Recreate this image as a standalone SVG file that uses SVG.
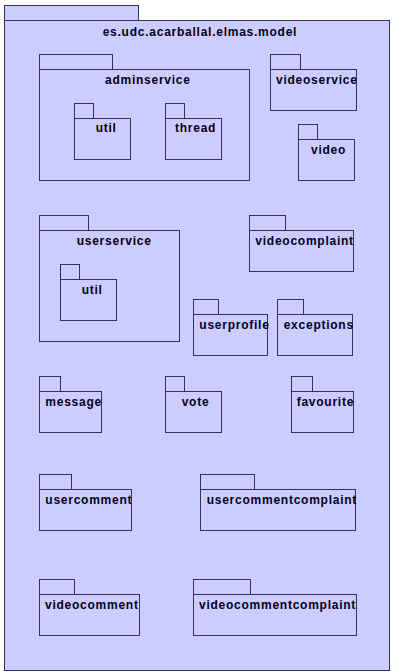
<svg xmlns="http://www.w3.org/2000/svg" width="401" height="672" viewBox="0 0 401 672">
<style>
rect{fill:#CCCCFF;stroke:#333355;stroke-width:1}
text{font-family:"Liberation Sans",Arial,sans-serif;font-weight:bold;font-size:12px;letter-spacing:0.75px;fill:#000022}
</style>
<rect x="0" y="0" width="401" height="672" style="fill:#ffffff;stroke:none"/>
<g id="pkg-model">
<rect x="4.5" y="5.5" width="134" height="15"/>
<rect x="4.5" y="20.5" width="385" height="650"/>
<text x="102.7" y="35.5">es.udc.acarballal.elmas.model</text>
</g>
<g id="pkg-adminservice">
<rect x="39.5" y="54.5" width="73" height="15"/>
<rect x="39.5" y="69.5" width="210" height="111"/>
<text x="105" y="83.5">adminservice</text>
</g>
<g id="pkg-adminservice-util">
<rect x="74.5" y="103.5" width="19" height="15"/>
<rect x="74.5" y="118.5" width="56" height="41"/>
<text x="95.7" y="132.3">util</text>
</g>
<g id="pkg-adminservice-thread">
<rect x="165.5" y="103.5" width="19" height="15"/>
<rect x="165.5" y="118.5" width="56" height="41"/>
<text x="175" y="132.3">thread</text>
</g>
<g id="pkg-videoservice">
<rect x="270.5" y="54.5" width="30" height="15"/>
<rect x="270.5" y="69.5" width="86" height="41"/>
<text x="276" y="83.5">videoservice</text>
</g>
<g id="pkg-video">
<rect x="298.5" y="124.5" width="19" height="15"/>
<rect x="298.5" y="139.5" width="56" height="41"/>
<text x="311" y="153.5">video</text>
</g>
<g id="pkg-userservice">
<rect x="39.5" y="215.5" width="49" height="15"/>
<rect x="39.5" y="230.5" width="140" height="111"/>
<text x="76.7" y="244.7">userservice</text>
</g>
<g id="pkg-userservice-util">
<rect x="60.5" y="264.5" width="19" height="15"/>
<rect x="60.5" y="279.5" width="56" height="41"/>
<text x="81.7" y="293.7">util</text>
</g>
<g id="pkg-videocomplaint">
<rect x="249.5" y="215.5" width="36" height="15"/>
<rect x="249.5" y="230.5" width="104" height="41"/>
<text x="255.3" y="244.7">videocomplaint</text>
</g>
<g id="pkg-userprofile">
<rect x="193.5" y="299.5" width="25" height="15"/>
<rect x="193.5" y="314.5" width="74" height="41"/>
<text x="199.3" y="328.8">userprofile</text>
</g>
<g id="pkg-exceptions">
<rect x="277.5" y="299.5" width="26" height="15"/>
<rect x="277.5" y="314.5" width="75" height="41"/>
<text x="283.7" y="328.8">exceptions</text>
</g>
<g id="pkg-message">
<rect x="39.5" y="376.5" width="21" height="15"/>
<rect x="39.5" y="391.5" width="62" height="41"/>
<text x="45.3" y="405.6">message</text>
</g>
<g id="pkg-vote">
<rect x="165.5" y="376.5" width="19" height="15"/>
<rect x="165.5" y="391.5" width="56" height="41"/>
<text x="181.7" y="405.6">vote</text>
</g>
<g id="pkg-favourite">
<rect x="291.5" y="376.5" width="21" height="15"/>
<rect x="291.5" y="391.5" width="62" height="41"/>
<text x="296.7" y="405.6">favourite</text>
</g>
<g id="pkg-usercomment">
<rect x="39.5" y="474.5" width="32" height="15"/>
<rect x="39.5" y="489.5" width="92" height="41"/>
<text x="45.3" y="504">usercomment</text>
</g>
<g id="pkg-usercommentcomplaint">
<rect x="200.5" y="474.5" width="54" height="15"/>
<rect x="200.5" y="489.5" width="155" height="41"/>
<text x="206.7" y="504.3">usercommentcomplaint</text>
</g>
<g id="pkg-videocomment">
<rect x="39.5" y="579.5" width="35" height="15"/>
<rect x="39.5" y="594.5" width="100" height="41"/>
<text x="45" y="609">videocomment</text>
</g>
<g id="pkg-videocommentcomplaint">
<rect x="193.5" y="579.5" width="57" height="15"/>
<rect x="193.5" y="594.5" width="163" height="41"/>
<text x="199" y="609">videocommentcomplaint</text>
</g>
<g id="connectors"></g>
</svg>
